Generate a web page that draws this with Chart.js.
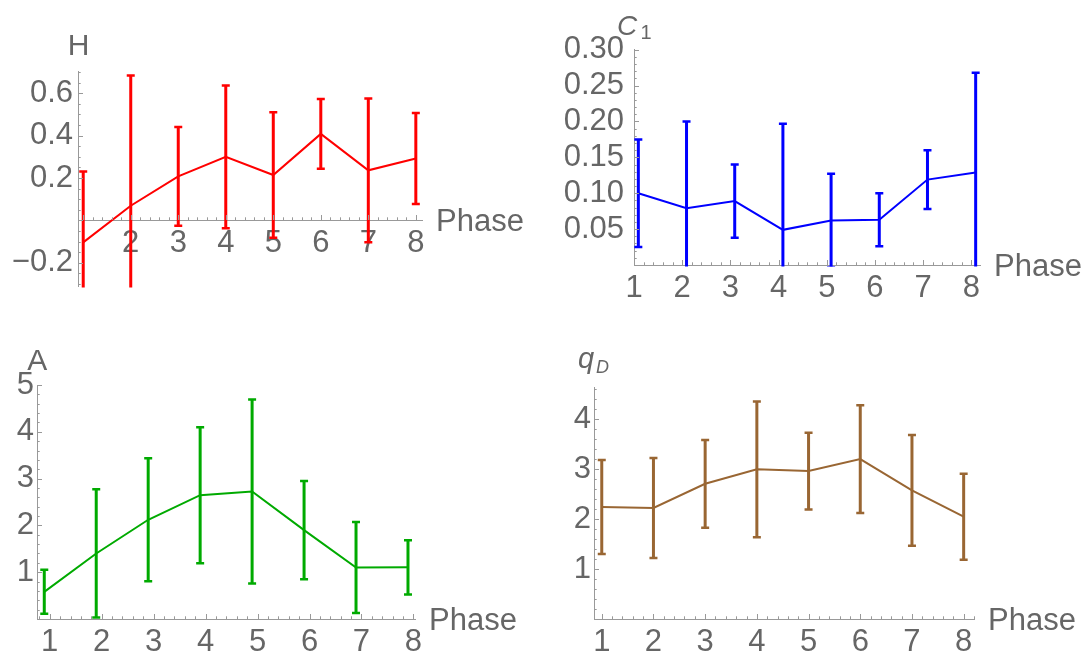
<!DOCTYPE html>
<html>
<head>
<meta charset="utf-8">
<script src="https://cdn.jsdelivr.net/npm/chart.js@4/dist/chart.umd.min.js"></script>
<style>
  html, body { margin: 0; padding: 0; background: #fff; }
  body { width: 1088px; height: 658px; position: relative; overflow: hidden; }
  canvas { position: absolute; }
</style>
</head>
<body>
<canvas id="chartH" width="544" height="329" style="left:0;top:0"></canvas>
<canvas id="chartC1" width="544" height="329" style="left:544px;top:0"></canvas>
<canvas id="chartA" width="544" height="329" style="left:0;top:329px"></canvas>
<canvas id="chartQ" width="544" height="329" style="left:544px;top:329px"></canvas>
<script>
// H
const hPhase = [1, 2, 3, 4, 5, 6, 7, 8];
const hMean = [-0.104, 0.069, 0.208, 0.300, 0.214, 0.408, 0.236, 0.292];
const hErr = [0.335, 0.615, 0.233, 0.337, 0.296, 0.165, 0.339, 0.215];
const hXTicks = [2, 3, 4, 5, 6, 7, 8];
const hYTicks = [-0.2, 0.2, 0.4, 0.6];

// C1
const c1Phase = [1.09, 2.09, 3.09, 4.09, 5.09, 6.09, 7.09, 8.09];
const c1Mean = [0.100, 0.079, 0.089, 0.049, 0.062, 0.063, 0.119, 0.129];
const c1Err = [0.075, 0.121, 0.051, 0.148, 0.065, 0.037, 0.041, 0.139];
const c1XTicks = [1, 2, 3, 4, 5, 6, 7, 8];
const c1YTicks = [0.05, 0.10, 0.15, 0.20, 0.25, 0.30];

// A
const aPhase = [0.895, 1.895, 2.895, 3.895, 4.895, 5.895, 6.895, 7.895];
const aMean = [0.58, 1.40, 2.12, 2.645, 2.725, 1.90, 1.10, 1.105];
const aErr = [0.47, 1.37, 1.315, 1.453, 1.966, 1.05, 0.97, 0.58];
const aXTicks = [1, 2, 3, 4, 5, 6, 7, 8];
const aYTicks = [1, 2, 3, 4, 5];

// qD
const qPhase = [1, 2, 3, 4, 5, 6, 7, 8];
const qMean = [2.245, 2.225, 2.71, 3.0, 2.965, 3.205, 2.58, 2.05];
const qErr = [0.94, 1.0, 0.88, 1.36, 0.77, 1.08, 1.11, 0.86];
const qXTicks = [1, 2, 3, 4, 5, 6, 7, 8];
const qYTicks = [1, 2, 3, 4];

const FONT = "'Liberation Sans', Arial, sans-serif";
const TEXT = '#666666';
const AXIS = '#999999';

// major + minor tick marks pointing into the plot, axis name and "Phase"
const mmaAxes = {
  id: 'mmaAxes',
  afterDraw(chart, args, opts) {
    const { ctx, chartArea: a, scales: { x, y } } = chart;
    const axisY = opts.xAt === undefined ? a.bottom : y.getPixelForValue(opts.xAt);
    const marks = (min, max, step, major) => {
      const out = [];
      for (let k = Math.ceil(min / step - 1e-9); k <= Math.floor(max / step + 1e-9); k++) {
        const v = k * step;
        const r = v / major;
        out.push({ v, big: Math.abs(r - Math.round(r)) < 1e-6 });
      }
      return out;
    };
    ctx.save();
    ctx.strokeStyle = AXIS;
    ctx.lineWidth = 1;
    ctx.beginPath();
    marks(x.min, x.max, opts.xMinor, opts.xMajor).forEach(t => {
      const px = Math.round(x.getPixelForValue(t.v)) + 0.5;
      ctx.moveTo(px, Math.round(axisY));
      ctx.lineTo(px, Math.round(axisY) - (t.big ? 5 : 2.7));
    });
    marks(y.min, y.max, opts.yMinor, opts.yMajor).forEach(t => {
      const py = Math.round(y.getPixelForValue(t.v)) + 0.5;
      ctx.moveTo(Math.round(a.left), py);
      ctx.lineTo(Math.round(a.left) + (t.big ? 5 : 2.7), py);
    });
    ctx.stroke();

    ctx.fillStyle = TEXT;
    ctx.textBaseline = 'alphabetic';
    ctx.textAlign = 'left';
    opts.title.forEach(part => {
      ctx.font = (part.italic ? 'italic ' : '') + part.size + 'px ' + FONT;
      ctx.fillText(part.text, a.left + part.dx, a.top + part.dy);
    });
    ctx.font = '31px ' + FONT;
    ctx.fillText('Phase', a.right + 14, axisY + 10.8);
    ctx.restore();
  }
};

// vertical error bars with caps, clipped at the axes
const errorBars = {
  id: 'errorBars',
  afterDatasetsDraw(chart) {
    const { ctx, chartArea: a, scales: { x, y } } = chart;
    ctx.save();
    ctx.beginPath();
    ctx.rect(a.left - 10, a.top - 10, a.right - a.left + 20, a.bottom - a.top + 11.5);
    ctx.clip();
    chart.data.datasets.forEach(ds => {
      ctx.strokeStyle = ds.borderColor;
      ds.data.forEach((p, i) => {
        const e = ds.errors[i];
        const px = x.getPixelForValue(p.x);
        const top = y.getPixelForValue(p.y + e);
        const bot = y.getPixelForValue(p.y - e);
        ctx.lineWidth = 3;
        ctx.beginPath();
        ctx.moveTo(px, top);
        ctx.lineTo(px, bot);
        ctx.stroke();
        ctx.lineWidth = 2.5;
        ctx.beginPath();
        ctx.moveTo(px - 4, top);
        ctx.lineTo(px + 4, top);
        ctx.moveTo(px - 4, bot);
        ctx.lineTo(px + 4, bot);
        ctx.stroke();
      });
    });
    ctx.restore();
  }
};

function makePanel(id, c) {
  const tickFont = { family: FONT, size: 31 };
  const crossing = c.axes.xAt !== undefined;
  new Chart(document.getElementById(id), {
    type: 'line',
    data: {
      datasets: [{
        data: c.xs.map((x, i) => ({ x: x, y: c.mean[i] })),
        errors: c.err,
        borderColor: c.color,
        borderWidth: 2,
        pointRadius: 0,
        tension: 0
      }]
    },
    options: {
      responsive: false,
      animation: false,
      events: [],
      // left and bottom space belong to the axes themselves
      layout: { padding: { left: 0, top: c.box.top, right: c.box.right, bottom: crossing ? c.box.bottom : 0 } },
      plugins: {
        legend: { display: false },
        tooltip: { enabled: false },
        mmaAxes: c.axes
      },
      scales: {
        x: {
          type: 'linear',
          min: c.xMin,
          max: c.xMax,
          position: crossing ? { y: c.axes.xAt } : 'bottom',
          grid: { display: false, drawTicks: false },
          border: { color: AXIS, width: 1 },
          afterFit: s => { s.height = crossing ? 0 : c.box.bottom; },
          afterBuildTicks: s => { s.ticks = c.xTicks.map(v => ({ value: v })); },
          ticks: {
            padding: 5, color: TEXT, font: tickFont,
            maxRotation: 0, autoSkip: false,
            callback: v => String(v)
          }
        },
        y: {
          type: 'linear',
          min: c.yMin,
          max: c.yMax,
          grid: { display: false, drawTicks: false },
          border: { color: AXIS, width: 1 },
          afterFit: s => { s.width = c.box.left; },
          afterBuildTicks: s => { s.ticks = c.yTicks.map(v => ({ value: v })); },
          ticks: {
            padding: c.yPad, color: TEXT, font: tickFont, autoSkip: false,
            callback: v => (v < 0 ? '\u2212' : '') + Math.abs(v).toFixed(c.digits)
          }
        }
      }
    },
    plugins: [errorBars, mmaAxes]
  });
}

makePanel('chartH', {
  xs: hPhase, mean: hMean, err: hErr, xTicks: hXTicks, yTicks: hYTicks,
  color: '#ff0000', box: { left: 78, top: 71, right: 122, bottom: 43 },
  xMin: 0.89, xMax: 8.13, yMin: -0.31, yMax: 0.705, yPad: 5, digits: 1,
  axes: { xAt: 0, xMinor: 0.2, xMajor: 1, yMinor: 0.05, yMajor: 0.2,
    title: [{ text: 'H', size: 30, dx: -10.3, dy: -15.7 }] }
});

makePanel('chartC1', {
  xs: c1Phase, mean: c1Mean, err: c1Err, xTicks: c1XTicks, yTicks: c1YTicks,
  color: '#0000ff', box: { left: 90, top: 49, right: 108, bottom: 64 },
  xMin: 1.0, xMax: 8.18, yMin: 0, yMax: 0.301, yPad: 10, digits: 2,
  axes: { xMinor: 0.2, xMajor: 1, yMinor: 0.01, yMajor: 0.05,
    title: [{ text: 'C', italic: true, size: 28, dx: -17, dy: -14 },
            { text: '1', size: 20, dx: 6.5, dy: -10 }] }
});

makePanel('chartA', {
  xs: aPhase, mean: aMean, err: aErr, xTicks: aXTicks, yTicks: aYTicks,
  color: '#00aa00', box: { left: 37, top: 56, right: 129, bottom: 39 },
  xMin: 0.755, xMax: 8.03, yMin: 0, yMax: 5, yPad: 3, digits: 0,
  axes: { xMinor: 0.2, xMajor: 1, yMinor: 0.2, yMajor: 1,
    title: [{ text: 'A', size: 30, dx: -9.8, dy: -15 }] }
});

makePanel('chartQ', {
  xs: qPhase, mean: qMean, err: qErr, xTicks: qXTicks, yTicks: qYTicks,
  color: '#996633', box: { left: 50, top: 58, right: 114, bottom: 39 },
  xMin: 0.85, xMax: 8.2, yMin: 0, yMax: 4.65, yPad: 3, digits: 0,
  axes: { xMinor: 0.2, xMajor: 1, yMinor: 0.2, yMajor: 1,
    title: [{ text: 'q', italic: true, size: 29, dx: -16, dy: -19.5 },
            { text: 'D', italic: true, size: 18, dx: 2, dy: -14 }] }
});
</script>
</body>
</html>
